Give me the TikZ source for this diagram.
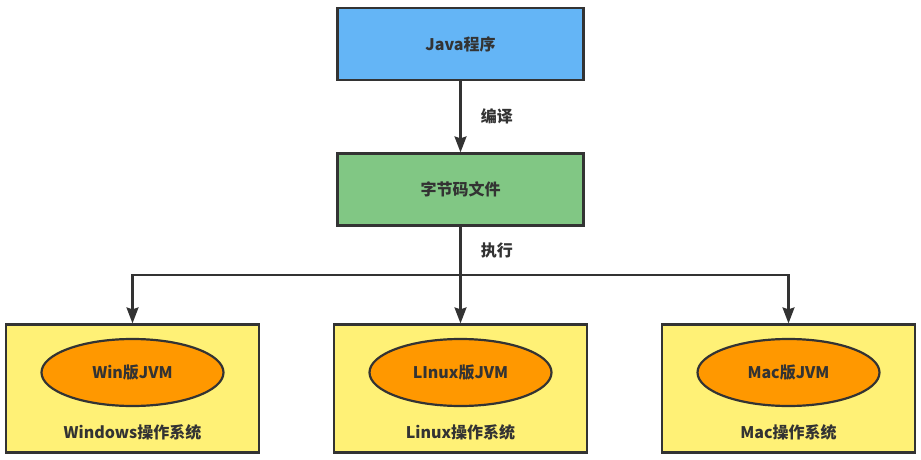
\documentclass[tikz,border=0pt]{standalone}
\usepackage{fontspec}
\setmainfont{Noto Sans CJK SC}
\usetikzlibrary{arrows.meta, shapes.geometric}

\definecolor{boxblue}{HTML}{64B5F6}
\definecolor{boxgreen}{HTML}{81C784}
\definecolor{boxyellow}{HTML}{FFF176}
\definecolor{jvmorange}{HTML}{FF9800}
\definecolor{linegray}{HTML}{333333}

\tikzset{
  box/.style={draw=linegray, line width=2.2pt, rectangle, inner sep=0pt,
    font=\fontsize{16}{19}\selectfont\bfseries, text=linegray},
  jvm/.style={draw=linegray, line width=2.2pt, ellipse, fill=jvmorange, inner sep=0pt,
    minimum width=182pt, minimum height=67pt,
    font=\fontsize{16}{19}\selectfont\bfseries, text=linegray},
  txt/.style={font=\fontsize{16}{19}\selectfont\bfseries, text=linegray},
  link/.style={draw=linegray, line width=2.2pt},
  tip/.style={link, -{Stealth[length=16pt, width=12pt, inset=2pt]}}
}

\begin{document}
\begin{tikzpicture}[x=1pt, y=-1pt]
\useasboundingbox (0,0) rectangle (921,460);

\node [box, fill=boxblue, minimum width=246pt, minimum height=72pt] (java) at (460.5,44) {Java程序};
\node [box, fill=boxgreen, minimum width=246pt, minimum height=72pt] (bytecode) at (460.5,189.5) {字节码文件};

\coordinate (split) at (460.5,275);

\draw [tip] (java) -- node [txt, right=16pt] (compile) {编译} (bytecode);
\draw [link] (bytecode) -- node [txt, right=16pt] (run) {执行} (split);

\foreach \name/\x/\jvmtext/\ostext in {win/132.5/Win版JVM/Windows操作系统, linux/460.5/LInux版JVM/Linux操作系统, mac/788.5/Mac版JVM/Mac操作系统}
{
  \node [box, fill=boxyellow, minimum width=253pt, minimum height=128pt] (\name os) at (\x,388.5) {};
  \node [jvm] (\name jvm) at (\x,372.5) {\jvmtext};
  \node [txt] (\name label) at (\x,432.5) {\ostext};
  \draw [tip] (split) -| (\name os.north);
}
\end{tikzpicture}
\end{document}
